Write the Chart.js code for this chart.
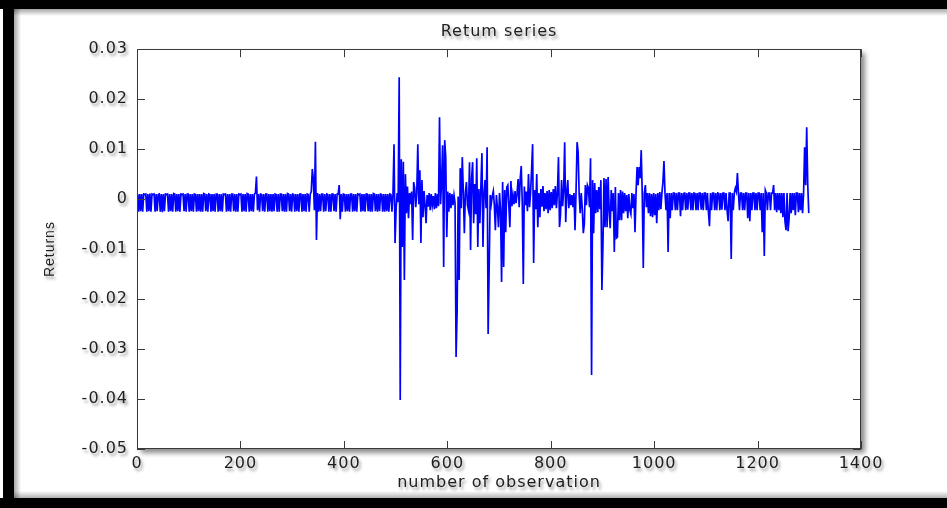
<!DOCTYPE html>
<html>
<head>
<meta charset="utf-8">
<script src="https://cdn.jsdelivr.net/npm/chart.js@4"></script>
<style>
  html,body{margin:0;padding:0;background:#fff;overflow:hidden;width:947px;height:508px;}
  #wrap{position:relative;width:947px;height:508px;overflow:hidden;background:#fff;}
  .bar{position:absolute;background:#000;}
  #topbar{left:0;top:0;width:947px;height:9px;}
  #leftbar{left:3px;top:0;width:11px;height:508px;}
  #botbar{left:0;top:498px;width:947px;height:10px;}
  .shade{position:absolute;}
  #topshade{left:14px;top:9px;width:933px;height:7px;background:linear-gradient(to bottom,rgba(0,0,0,0.35),rgba(0,0,0,0));}
  #leftshade{left:14px;top:9px;width:7px;height:489px;background:linear-gradient(to right,rgba(0,0,0,0.35),rgba(0,0,0,0));}
  #botshade{left:14px;top:491px;width:933px;height:7px;background:linear-gradient(to top,rgba(0,0,0,0.3),rgba(0,0,0,0));}
  #rightpad{position:absolute;left:915px;top:16px;width:32px;height:475px;background:#fff;}
  canvas{position:absolute;left:0;top:0;}
</style>
</head>
<body>
<div id="wrap">
  <div id="topshade" class="shade"></div><div id="leftshade" class="shade"></div><div id="botshade" class="shade"></div>
  <div id="topbar" class="bar"></div><div id="leftbar" class="bar"></div><div id="botbar" class="bar"></div>
  <div id="rightpad"></div>
  <canvas id="c" width="947" height="508" style="width:947px;height:508px"></canvas>
</div>
<script>
// Observation sampling: one value every 2 observations, starting at observation 1
const firstObs = 1;
const obsStep = 2;

// Returns, observations 1..499 (quiet period)
const returnsEarly = [
 0.001,-0.0025,0.001,-0.0024,0.001,-0.0025,0.001,0.0009,0.001,-0.0025,
 0.001,-0.0024,0.0011,-0.0025,0.001,0.0009,0.001,-0.0025,0.001,-0.0024,
 0.0009,0.001,-0.0025,0.001,-0.0026,0.001,-0.0024,0.001,0.0009,0.001,
 -0.0025,0.001,-0.0024,0.001,-0.0025,0.0011,0.001,-0.0025,0.001,-0.0024,
 0.001,-0.0025,0.001,0.0009,0.001,-0.0024,0.001,-0.0025,0.001,0.001,
 -0.0025,0.001,-0.0024,0.001,-0.0025,0.001,0.0009,-0.0025,0.001,-0.0024,
 0.001,-0.0025,0.001,-0.0025,0.0011,0.001,-0.0024,0.001,-0.0025,0.001,
 0.0009,-0.0025,0.001,-0.0024,0.001,-0.0025,0.001,0.001,-0.0025,0.001,
 -0.0024,0.001,-0.0025,0.001,0.0009,0.001,-0.0025,0.001,-0.0024,0.001,
 -0.0025,0.001,0.001,-0.0024,0.001,-0.0025,0.001,-0.0025,0.001,0.0009,
 0.001,-0.0025,0.001,-0.0024,0.001,-0.0025,0.0011,0.001,-0.0025,0.001,
 -0.0024,0.001,-0.0025,0.001,0.0012,0.0045,-0.0022,0.001,-0.0025,0.001,
 0.0009,-0.0024,0.001,-0.0025,0.001,0.001,-0.0025,0.001,-0.0024,0.001,
 -0.0025,0.001,-0.0024,0.001,0.0009,-0.0025,0.001,-0.0025,0.001,0.001,
 -0.0024,0.001,-0.0025,0.001,-0.0025,0.0011,0.001,-0.0024,0.001,-0.0025,
 0.001,0.0009,-0.0025,0.001,-0.0024,0.001,-0.0025,0.001,0.001,-0.0025,
 0.001,-0.0024,0.001,-0.0025,0.001,0.0009,-0.0025,0.001,0.0015,0.006,
 0.004,-0.0022,0.0115,-0.0082,0.0012,-0.0025,0.001,-0.0024,0.001,0.001,
 -0.0025,0.001,-0.0024,0.001,0.0009,-0.0025,0.001,-0.0025,0.001,0.001,
 -0.0024,0.001,-0.0025,0.001,0.001,0.0028,-0.004,0.001,-0.0025,0.001,
 0.0009,-0.0025,0.001,-0.0024,0.001,-0.0025,0.001,0.001,-0.0025,0.001,
 -0.0024,0.001,-0.0025,0.001,0.0009,0.001,-0.0025,0.001,-0.0024,0.001,
 -0.0025,0.001,0.001,-0.0024,0.001,-0.0025,0.001,-0.0025,0.0011,0.001,
 -0.0024,0.001,-0.0025,0.001,-0.0024,0.001,0.0009,-0.0025,0.001,-0.0025,
 0.001,-0.0024,0.001,-0.0025,0.001,0.0009,-0.0025,0.001,0.011,-0.0088
];

// Returns, observations 501..1019 (volatile period)
const returnsVolatile = [
 -0.002,0.0012,-0.0006,0.0244,-0.0402,0.008,-0.0096,0.0075,-0.0162,0.005,
 -0.0028,0.0025,-0.0038,0.0012,-0.001,0.0015,-0.0082,0.0034,0.0022,-0.0016,
 0.0012,0.011,-0.001,0.0058,-0.0088,0.0038,-0.0036,0.0016,-0.0012,-0.0048,
 0.0008,-0.0015,0.0012,-0.0022,0.001,-0.0012,0.0006,-0.002,0.0012,-0.0018,
 0.001,-0.0014,0.0164,-0.001,0.0035,0.0108,-0.0136,0.0118,0.0084,-0.0076,
 0.0015,-0.0025,0.0012,-0.0018,0.001,-0.0012,0.0008,-0.0008,-0.0316,-0.0226,
 0.0005,-0.0162,0.0062,-0.0018,0.0084,0.0015,-0.0068,0.0012,0.0034,-0.0012,
 -0.0022,0.0074,-0.0102,0.004,0.0074,-0.0048,0.003,-0.003,0.0082,-0.0096,
 0.002,-0.0048,0.0025,0.0092,-0.0096,0.001,0.0038,-0.0018,0.0104,-0.027,
 -0.0138,0.0008,-0.001,0.0006,0.0016,-0.0012,-0.0062,0.0008,-0.0018,-0.0056,
 0.0012,-0.0022,-0.0166,0.0034,-0.0136,0.0018,-0.0066,0.0024,0.0028,-0.0012,
 -0.0056,0.0036,-0.0014,0.0008,-0.001,0.0016,-0.0008,0.0012,0.004,-0.0016,
 0.004,0.0066,-0.0008,-0.017,0.0025,-0.0012,0.0015,-0.0024,0.005,-0.0016,
 0.0012,0.0058,0.011,-0.0128,0.0018,-0.002,0.005,-0.0056,0.0012,-0.0036,
 0.002,-0.0015,0.0026,-0.0024,0.0012,-0.002,0.0016,-0.0028,0.0018,-0.0022,
 0.0014,-0.0018,0.002,-0.0012,0.0026,-0.0018,0.0012,0.0084,-0.0056,-0.003,
 0.0038,-0.0014,0.0016,0.0114,-0.0046,0.0012,0.0038,-0.0018,0.001,-0.0012,
 0.0008,-0.0016,0.0012,-0.0062,0.0016,0.0114,0.0094,0.001,-0.0028,0.0012,
 -0.0018,-0.0068,-0.005,0.0028,-0.0012,0.0028,0.0022,-0.0016,0.0082,-0.0352,
 0.0038,-0.0068,0.0032,-0.0028,0.0018,-0.0026,0.0024,-0.002,0.0038,-0.0182,
 -0.0092,0.0042,-0.0056,0.004,-0.0056,0.0044,-0.0022,-0.0058,0.0018,-0.0024,
 0.0012,-0.0106,0.0024,-0.0078,-0.0076,0.0012,-0.0042,0.0018,-0.0042,0.0015,
 -0.0028,0.0012,-0.0024,0.0008,-0.0038,0.001,-0.0022,-0.003,0.0012,-0.0018,
 0.001,-0.0066,0.0012,0.0064,0.0028,0.0064,0.0042,0.0098,0.001,-0.0138,
 0.0012,0.0028,-0.0016,0.0012,-0.0028,0.0012,-0.0034,0.001,-0.0036,0.0012,
 -0.0032,0.001,-0.0048,0.0012,-0.0022,0.0014,-0.002,0.0012,0.0034,0.0076
];

// Returns, observations 1021..1299 (calmer again)
const returnsLate = [
 0.0012,-0.0022,0.0012,-0.0106,0.0012,-0.0038,0.0012,-0.0022,0.0012,0.0012,
 -0.0022,0.0012,-0.0022,0.0012,0.0012,-0.0034,0.0012,-0.0022,0.0011,0.0012,
 -0.0022,0.0012,-0.0021,0.0012,0.0012,-0.0022,0.0012,-0.0022,0.0012,0.0011,
 -0.0022,0.0012,-0.0022,0.0012,0.0012,-0.0021,0.0012,-0.0022,0.0012,0.0012,
 -0.0022,0.0012,-0.0026,-0.0054,0.0012,-0.0022,0.0012,0.0012,-0.0022,0.0012,
 -0.0022,0.0012,0.0011,-0.0022,0.0012,-0.0021,0.0012,0.0012,-0.0022,0.0012,
 -0.0022,-0.0044,0.0012,0.0012,-0.012,0.0012,-0.0022,0.0012,0.0022,0.0015,
 0.0052,0.0012,-0.0022,0.0012,0.0012,-0.0022,0.0012,-0.0022,0.0012,0.0012,
 -0.0038,0.0012,-0.0044,0.0012,-0.0022,0.0012,0.0012,-0.0022,0.0012,-0.0022,
 0.0012,0.0012,-0.0022,0.0012,-0.0066,0.0012,-0.0114,0.0018,0.0012,-0.0022,
 0.0012,0.0012,-0.0022,0.0012,0.0012,0.0028,-0.0022,0.0012,-0.0026,0.0012,
 -0.0022,0.0012,-0.0028,0.0012,-0.0036,0.0012,-0.0044,-0.0062,0.0012,-0.0064,
 -0.0038,0.0012,-0.0028,0.0012,-0.0022,0.0012,-0.0032,0.0012,0.0012,-0.0026,
 0.0012,-0.0022,0.0012,-0.0028,0.0012,0.0104,0.0028,0.0144,0.003,-0.0028
];

// Axis ticks
const xTickValues = [0, 200, 400, 600, 800, 1000, 1200, 1400];
const xTickLabels = ['0', '200', '400', '600', '800', '1000', '1200', '1400'];
const yTickValues = [-0.05, -0.04, -0.03, -0.02, -0.01, 0, 0.01, 0.02, 0.03];
const yTickLabels = ['-0.05', '-0.04', '-0.03', '-0.02', '-0.01', '0', '0.01', '0.02', '0.03'];

const titleText = 'Retum series';
const xTitleText = 'number of observation';
const yTitleText = 'Returns';

const returns = returnsEarly.concat(returnsVolatile, returnsLate);
const points = returns.map((v, i) => ({ x: firstObs + i * obsStep, y: v }));

const textColor = '#1e1e1e';
const wideFont = { family: 'DejaVu Sans', size: 16, weight: 'normal' };

function labelFor(values, labels, v) {
  const k = values.findIndex(t => Math.abs(t - v) < 1e-9);
  return k >= 0 ? labels[k] : '';
}

const framePlugin = {
  id: 'matlabFrame',
  beforeDraw(chart) {
    const { ctx, chartArea: a } = chart;
    ctx.save();
    ctx.shadowColor = 'rgba(0,0,0,0.45)';
    ctx.shadowBlur = 5;
    ctx.shadowOffsetX = 4;
    ctx.shadowOffsetY = 4;
    ctx.fillStyle = '#ffffff';
    ctx.fillRect(a.left, a.top, a.right - a.left, a.bottom - a.top);
    ctx.restore();
    ctx.shadowColor = 'rgba(0,0,0,0.38)';
    ctx.shadowBlur = 3;
    ctx.shadowOffsetX = 2;
    ctx.shadowOffsetY = 3;
    ctx.letterSpacing = '1px';
  },
  beforeDatasetsDraw(chart) {
    const ctx = chart.ctx;
    ctx.shadowColor = 'rgba(0,0,0,0)';
    ctx.shadowBlur = 0;
    ctx.shadowOffsetX = 0;
    ctx.shadowOffsetY = 0;
    ctx.letterSpacing = '0px';
  },
  afterDraw(chart) {
    const { ctx, chartArea: a, scales } = chart;
    const tl = 8;
    ctx.save();
    ctx.shadowColor = 'rgba(0,0,0,0)';
    ctx.strokeStyle = '#3a3a3a';
    ctx.lineWidth = 1;
    ctx.strokeRect(Math.round(a.left) + 0.5, Math.round(a.top) + 0.5,
                   Math.round(a.right - a.left) - 1, Math.round(a.bottom - a.top) - 1);
    ctx.beginPath();
    xTickValues.forEach(v => {
      const px = Math.round(scales.x.getPixelForValue(v)) + 0.5;
      ctx.moveTo(px, a.bottom); ctx.lineTo(px, a.bottom - tl);
      ctx.moveTo(px, a.top); ctx.lineTo(px, a.top + tl);
    });
    yTickValues.forEach(v => {
      const py = Math.round(scales.y.getPixelForValue(v)) + 0.5;
      ctx.moveTo(a.left, py); ctx.lineTo(a.left + tl, py);
      ctx.moveTo(a.right, py); ctx.lineTo(a.right - tl, py);
    });
    ctx.stroke();
    ctx.restore();
  }
};

new Chart(document.getElementById('c'), {
  type: 'line',
  data: {
    datasets: [{
      data: points,
      borderColor: '#0000ff',
      borderWidth: 1.7,
      pointRadius: 0,
      tension: 0,
      fill: false
    }]
  },
  options: {
    responsive: false,
    animation: false,
    events: [],
    layout: { padding: { left: 0, right: 86, top: 0, bottom: 0 } },
    plugins: {
      legend: { display: false },
      tooltip: { enabled: false },
      title: {
        display: true,
        fullSize: false,
        text: titleText,
        color: textColor,
        font: wideFont,
        padding: { top: 22, bottom: 8 }
      }
    },
    scales: {
      x: {
        type: 'linear',
        min: 0,
        max: 1400,
        afterBuildTicks: s => { s.ticks = xTickValues.map(v => ({ value: v })); },
        afterFit: s => { s.height = 59; },
        grid: { display: false, drawTicks: false },
        border: { display: false },
        ticks: {
          color: textColor, font: wideFont, padding: 5, maxRotation: 0, autoSkip: false,
          callback: v => labelFor(xTickValues, xTickLabels, v)
        },
        title: { display: true, text: xTitleText, color: textColor, font: wideFont, padding: { top: 0, bottom: 16 } }
      },
      y: {
        type: 'linear',
        min: -0.05,
        max: 0.03,
        afterBuildTicks: s => { s.ticks = yTickValues.map(v => ({ value: v })); },
        afterFit: s => { s.width = 137; },
        grid: { display: false, drawTicks: false },
        border: { display: false },
        ticks: {
          color: textColor, font: wideFont, padding: 9, autoSkip: false,
          callback: v => labelFor(yTickValues, yTickLabels, v)
        },
        title: { display: true, text: yTitleText, color: textColor, font: { family: 'Liberation Sans', size: 14, weight: 'normal' }, padding: { top: 42, bottom: 0 } }
      }
    }
  },
  plugins: [framePlugin]
});
</script>
</body>
</html>
